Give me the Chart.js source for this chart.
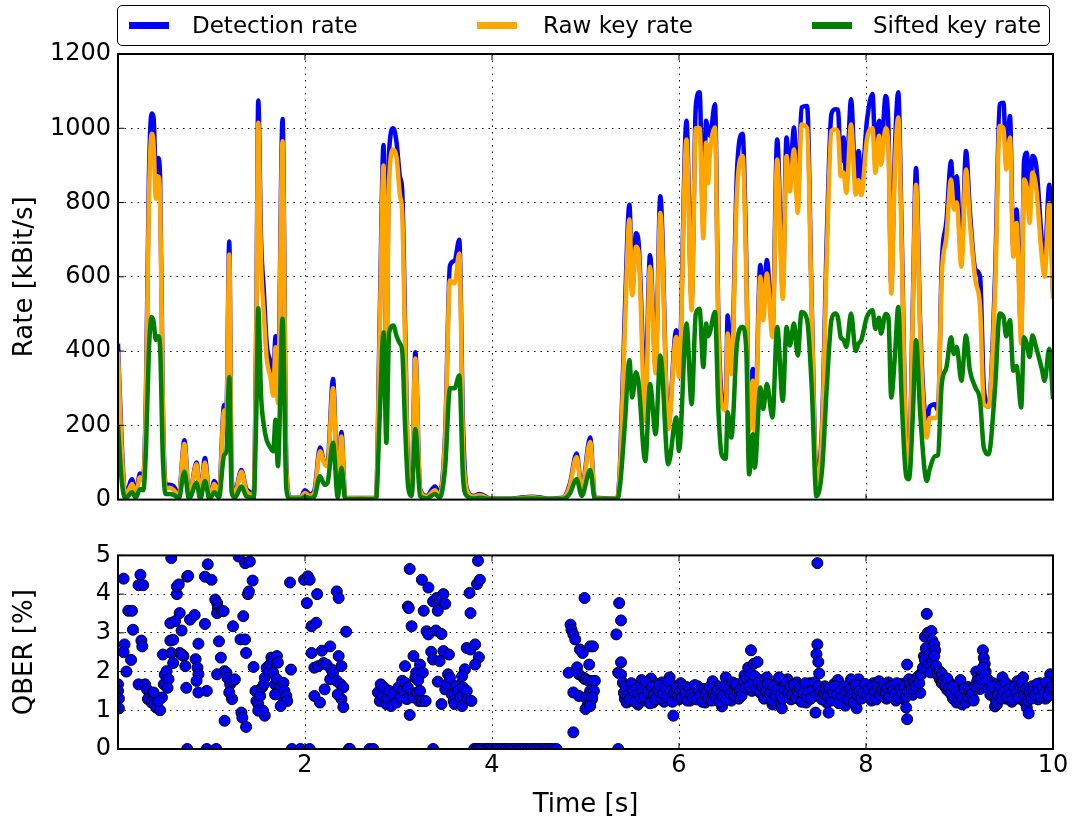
<!DOCTYPE html>
<html>
<head>
<meta charset="utf-8">
<script src="https://cdn.jsdelivr.net/npm/chart.js@4.4.0/dist/chart.umd.min.js"></script>
<style>
    body { margin: 0; background: #fff; width: 1079px; height: 823px; position: relative; overflow: hidden; font-family: "DejaVu Sans", sans-serif; }
    #rateChart { position: absolute; left: 0; top: 0; }
    #qberChart { position: absolute; left: 0; top: 534px; }
    #legend { position: absolute; left: 117px; top: 5px; width: 933px; height: 41px; border: 1.5px solid #000; border-radius: 5px; box-sizing: border-box; background: #fff; }
    .sw { position: absolute; top: 22px; width: 40px; height: 7px; }
    .lab { position: absolute; top: 5px; height: 41px; line-height: 41px; font-size: 23px; color: #000; white-space: nowrap; }
</style>
</head>
<body>
<canvas id="rateChart" width="1079" height="521"></canvas>
<canvas id="qberChart" width="1079" height="289"></canvas>
<div id="legend"></div>
<div class="sw" style="left:129px;background:#0000ff"></div>
<div class="lab" style="left:192px">Detection rate</div>
<div class="sw" style="left:477px;background:#ffa500"></div>
<div class="lab" style="left:543px">Raw key rate</div>
<div class="sw" style="left:812px;background:#008000"></div>
<div class="lab" style="left:873px">Sifted key rate</div>
<script>
// time axis of the rate curves [s]
const rateTime = [
    0.00, 0.04, 0.08, 0.15, 0.19, 0.235, 0.27, 0.30, 0.33, 0.36,
    0.38, 0.405, 0.43, 0.45, 0.48, 0.51, 0.55, 0.60, 0.65, 0.71,
    0.76, 0.84, 0.88, 0.93, 0.98, 1.03, 1.08, 1.135, 1.16, 1.19,
    1.215, 1.25, 1.32, 1.37, 1.41, 1.45, 1.48, 1.50, 1.53, 1.56,
    1.59, 1.63, 1.66, 1.685, 1.71, 1.76, 1.80, 1.84, 1.95, 2.00,
    2.05, 2.10, 2.16, 2.21, 2.24, 2.30, 2.35, 2.39, 2.43, 2.60,
    2.76, 2.80, 2.84, 2.87, 2.90, 2.945, 2.98, 3.015, 3.04, 3.07,
    3.105, 3.14, 3.18, 3.23, 3.30, 3.39, 3.44, 3.50, 3.55, 3.60,
    3.65, 3.69, 3.73, 3.80, 3.87, 3.98, 4.20, 4.43, 4.60, 4.76,
    4.83, 4.905, 4.96, 5.05, 5.10, 5.34, 5.37, 5.42, 5.47, 5.50,
    5.54, 5.565, 5.64, 5.69, 5.75, 5.80, 5.885, 5.97, 6.00, 6.08,
    6.135, 6.18, 6.22, 6.26, 6.29, 6.31, 6.33, 6.385, 6.42, 6.455,
    6.50, 6.52, 6.56, 6.62, 6.68, 6.72, 6.75, 6.79, 6.81, 6.87,
    6.90, 6.94, 7.00, 7.05, 7.11, 7.15, 7.185, 7.23, 7.27, 7.31,
    7.37, 7.42, 7.47, 7.53, 7.58, 7.63, 7.67, 7.70, 7.73, 7.76,
    7.79, 7.84, 7.89, 7.92, 7.95, 8.01, 8.07, 8.10, 8.14, 8.16,
    8.21, 8.24, 8.27, 8.31, 8.345, 8.38, 8.43, 8.46, 8.50, 8.535,
    8.58, 8.65, 8.68, 8.74, 8.77, 8.81, 8.86, 8.91, 8.94, 8.97,
    9.02, 9.07, 9.11, 9.17, 9.22, 9.26, 9.31, 9.38, 9.43, 9.47,
    9.50, 9.54, 9.575, 9.61, 9.66, 9.69, 9.72, 9.75, 9.78, 9.82,
    9.88, 9.91, 9.96, 10.00
];
// kBit/s
const detectionRate = [
    420, 150, 10, 55, 15, 70, 60, 300, 860, 1040,
    1030, 880, 920, 870, 250, 40, 40, 35, 10, 160,
    5, 100, 5, 112, 3, 50, 20, 255, 240, 695,
    60, 20, 80, 30, 20, 5, 500, 1075, 700, 560,
    420, 370, 320, 440, 300, 1025, 100, 5, 5, 25,
    15, 25, 140, 100, 100, 325, 20, 182, 5, 4,
    5, 500, 955, 400, 940, 1000, 960, 870, 830, 480,
    60, 20, 397, 30, 10, 35, 15, 185, 630, 643,
    700, 200, 30, 10, 15, 3, 3, 8, 3, 5,
    40, 124, 30, 167, 5, 3, 100, 500, 794, 560,
    717, 700, 300, 659, 360, 817, 200, 456, 350, 1020,
    540, 1060, 1097, 740, 1020, 992, 980, 1065, 500, 284,
    250, 496, 360, 884, 985, 640, 200, 352, 200, 632,
    520, 645, 460, 970, 570, 975, 870, 1002, 810, 1056,
    1060, 520, 70, 200, 700, 1038, 1051, 1050, 910, 975,
    860, 1078, 850, 939, 850, 1020, 1092, 940, 1020, 930,
    1087, 1000, 580, 950, 1097, 740, 140, 90, 520, 893,
    470, 203, 250, 257, 240, 636, 749, 911, 800, 871,
    650, 939, 780, 620, 600, 302, 250, 600, 1065, 1069,
    920, 1033, 680, 781, 450, 911, 934, 780, 925, 900,
    700, 640, 848, 560
];
const rawKeyRate = [
    400, 130, 8, 42, 12, 60, 50, 280, 800, 985,
    960, 810, 870, 820, 230, 30, 32, 25, 8, 150,
    4, 95, 4, 100, 2, 42, 15, 240, 225, 660,
    50, 15, 75, 25, 15, 4, 470, 1015, 640, 500,
    380, 330, 280, 410, 260, 965, 80, 4, 4, 18,
    10, 18, 130, 95, 90, 300, 15, 170, 4, 3,
    4, 460, 900, 380, 860, 943, 920, 820, 770, 430,
    50, 15, 380, 25, 8, 25, 12, 170, 590, 582,
    663, 150, 25, 8, 12, 2, 2, 6, 2, 4,
    35, 115, 25, 155, 4, 2, 90, 450, 754, 550,
    681, 670, 212, 627, 340, 772, 190, 438, 330, 970,
    510, 1000, 1000, 704, 961, 852, 930, 1002, 470, 257,
    240, 447, 338, 826, 925, 600, 185, 320, 180, 600,
    483, 609, 438, 916, 541, 925, 830, 943, 772, 1010,
    1000, 500, 45, 180, 650, 993, 997, 990, 871, 880,
    826, 1010, 821, 860, 820, 970, 1000, 880, 980, 902,
    1000, 950, 555, 900, 1029, 700, 122, 75, 500, 848,
    440, 167, 220, 220, 230, 600, 708, 862, 781, 800,
    627, 889, 750, 591, 519, 257, 250, 560, 1006, 1000,
    889, 975, 654, 745, 420, 862, 840, 745, 880, 840,
    654, 600, 798, 540
];
const siftedKeyRate = [
    200, 50, 3, 20, 5, 28, 25, 140, 400, 492,
    480, 430, 440, 410, 110, 15, 15, 12, 3, 75,
    2, 45, 2, 50, 1, 20, 6, 120, 130, 330,
    20, 5, 35, 10, 6, 2, 240, 515, 280, 200,
    160, 140, 130, 215, 90, 487, 30, 2, 2, 8,
    4, 8, 63, 40, 45, 153, 6, 86, 2, 1,
    2, 230, 451, 153, 450, 469, 440, 420, 400, 200,
    30, 10, 190, 10, 3, 15, 5, 90, 300, 300,
    334, 60, 10, 3, 5, 1, 1, 3, 1, 2,
    15, 55, 10, 80, 2, 1, 40, 200, 375, 275,
    343, 320, 104, 311, 176, 388, 95, 221, 131, 474,
    257, 501, 514, 357, 474, 440, 450, 505, 250, 122,
    110, 235, 167, 420, 465, 400, 68, 176, 86, 302,
    244, 311, 221, 465, 266, 465, 415, 474, 388, 505,
    485, 300, 9, 80, 300, 483, 501, 490, 437, 430,
    411, 501, 400, 420, 430, 492, 510, 460, 490, 447,
    500, 490, 275, 390, 519, 280, 63, 55, 221, 429,
    230, 50, 81, 117, 120, 311, 356, 437, 392, 411,
    320, 442, 350, 302, 266, 140, 122, 300, 501, 492,
    440, 483, 347, 360, 248, 437, 420, 384, 442, 410,
    352, 320, 406, 270
];

// QBER samples: time [s] and error rate [%]
const qberTime = [
    0.00, 0.00, 0.01, 0.01, 0.06, 0.07, 0.06, 0.14, 0.09, 0.11,
    0.15, 0.16, 0.24, 0.22, 0.27, 0.25, 0.26, 0.22, 0.29, 0.31,
    0.34, 0.32, 0.38, 0.36, 0.39, 0.41, 0.45, 0.47, 0.43, 0.38,
    0.49, 0.50, 0.52, 0.54, 0.53, 0.48, 0.57, 0.59, 0.56, 0.59,
    0.56, 0.61, 0.66, 0.68, 0.63, 0.63, 0.65, 0.74, 0.75, 0.57,
    0.66, 0.70, 0.72, 0.68, 0.73, 0.77, 0.82, 0.86, 0.83, 0.85,
    0.86, 0.84, 0.74, 0.86, 0.95, 0.93, 0.93, 1.00, 0.96, 0.95,
    1.05, 1.04, 1.06, 1.07, 1.06, 1.11, 1.13, 1.08, 1.10, 1.06,
    1.14, 1.16, 1.17, 1.20, 1.23, 1.25, 1.22, 1.19, 1.14, 1.23,
    1.29, 1.36, 1.41, 1.34, 1.31, 1.36, 1.37, 1.32, 1.33, 1.37,
    1.39, 1.40, 1.44, 1.45, 1.47, 1.48, 1.50, 1.52, 1.54, 1.50,
    1.56, 1.57, 1.59, 1.61, 1.63, 1.64, 1.66, 1.70, 1.71, 1.66,
    1.68, 1.70, 1.72, 1.73, 1.75, 1.68, 1.77, 1.78, 1.80, 1.81,
    1.74, 1.57, 1.55, 1.85, 1.84, 1.86, 1.95, 2.05, 1.99, 2.03,
    2.05, 2.02, 2.13, 2.34, 2.36, 2.07, 2.12, 2.44, 2.07, 2.18,
    2.27, 2.36, 2.10, 2.14, 2.20, 2.23, 2.28, 2.39, 2.10, 2.16,
    2.21, 2.27, 2.30, 2.34, 2.38, 2.41, 2.39, 2.35, 2.41, 2.47,
    2.48, 2.69, 2.73, 3.37, 2.78, 2.80, 2.81, 2.83, 2.85, 2.87,
    2.88, 2.90, 2.92, 2.94, 2.98, 3.00, 3.02, 3.04, 3.05, 3.07,
    3.09, 3.10, 3.16, 3.20, 3.22, 3.23, 3.25, 3.29, 3.07, 3.16,
    3.12, 3.18, 3.19, 3.23, 3.26, 3.21, 3.12, 3.25, 3.32, 3.10,
    3.11, 3.14, 3.27, 3.37, 3.41, 3.44, 3.48, 3.50, 3.42, 3.30,
    3.32, 3.40, 3.46, 3.35, 3.37, 3.44, 3.48, 3.54, 3.42, 3.46,
    3.50, 3.52, 3.53, 3.55, 3.57, 3.59, 3.60, 3.62, 3.64, 3.66,
    3.68, 3.69, 3.71, 3.73, 3.74, 3.78, 3.68, 3.73, 3.77, 3.82,
    3.86, 3.82, 3.76, 3.77, 3.84, 3.87, 3.85, 4.87, 4.84, 4.85,
    4.87, 4.89, 4.94, 4.97, 5.05, 4.99, 4.82, 4.91, 4.93, 4.98,
    5.00, 5.03, 5.07, 4.87, 4.93, 5.00, 5.05, 5.07, 5.02, 5.00,
    5.04, 5.08, 5.10, 5.09, 5.07, 5.05, 5.35, 5.36, 5.38, 5.33,
    5.38, 5.35, 5.38,
    3.81, 3.84, 3.86, 3.89, 3.92, 3.95, 3.97, 4.00, 4.03, 4.06,
    4.09, 4.12, 4.15, 4.18, 4.21, 4.24, 4.27, 4.30, 4.33, 4.36,
    4.39, 4.42, 4.45, 4.48, 4.51, 4.54, 4.57, 4.60, 4.63, 4.66,
    4.69,
    5.40, 5.42, 5.44, 5.46, 5.48, 5.50, 5.52, 5.54, 5.56, 5.58,
    5.60, 5.62, 5.64, 5.66, 5.68, 5.70, 5.72, 5.74, 5.76, 5.78,
    5.80, 5.82, 5.84, 5.86, 5.88, 5.90, 5.92, 5.94, 5.96, 5.98,
    6.00, 6.02, 6.04, 6.06, 6.08, 6.10, 6.12, 6.14, 6.16, 6.18,
    6.20, 6.22, 6.24, 6.26, 6.28, 6.30, 6.32, 6.34, 6.36, 6.38,
    6.40, 6.42, 6.44, 6.46, 6.48, 6.50, 6.52, 6.54, 6.56, 6.58,
    6.60, 6.62, 6.64, 6.66, 6.68, 6.70, 6.72, 6.74, 6.76, 6.77,
    6.78, 6.80, 6.82, 6.84, 6.86, 6.88, 6.90, 6.92, 6.94, 6.96,
    6.98, 7.00, 7.02, 7.04, 7.06, 7.08, 7.10, 7.12, 7.14, 7.16,
    7.18, 7.20, 7.22, 7.24, 7.26, 7.28, 7.30, 7.32, 7.34, 7.36,
    7.38, 7.40, 7.42, 7.44, 7.46, 7.48, 7.48, 7.47, 7.49, 7.50,
    7.52, 7.54, 7.56, 7.58, 7.60, 7.62, 7.64, 7.66, 7.68, 7.70,
    7.72, 7.74, 7.76, 7.78, 7.80, 7.82, 7.84, 7.86, 7.88, 7.90,
    7.92, 7.94, 7.96, 7.98, 8.00, 8.02, 8.04, 8.06, 8.08, 8.10,
    8.12, 8.14, 8.16, 8.18, 8.20, 8.22, 8.24, 8.26, 8.28, 8.30,
    8.32, 8.34, 8.36, 8.38, 8.40, 8.42, 8.43, 8.44, 8.44, 8.46,
    8.48, 8.50, 8.52, 8.54, 8.56, 8.58, 8.60, 8.62, 8.63, 8.64,
    8.65, 8.66, 8.67, 8.68, 8.69, 8.70, 8.71, 8.72, 8.73, 8.74,
    8.75, 8.77, 8.79, 8.81, 8.83, 8.85, 8.87, 8.89, 8.91, 8.93,
    8.95, 8.97, 8.99, 9.01, 9.03, 9.05, 9.07, 9.09, 9.11, 9.13,
    9.15, 9.17, 9.18, 9.20, 9.22, 9.24, 9.25, 9.26, 9.27, 9.28,
    9.30, 9.32, 9.34, 9.36, 9.38, 9.40, 9.42, 9.44, 9.46, 9.48,
    9.50, 9.52, 9.54, 9.56, 9.58, 9.60, 9.62, 9.64, 9.66, 9.68,
    9.70, 9.72, 9.74, 9.76, 9.78, 9.80, 9.82, 9.84, 9.86, 9.88,
    9.90, 9.92, 9.94, 9.96, 9.97, 9.99,
    5.41, 5.43, 5.45, 5.47, 5.49, 5.51, 5.53, 5.55, 5.57, 5.59,
    5.61, 5.63, 5.65, 5.67, 5.69, 5.71, 5.73, 5.75, 5.77, 5.79,
    5.81, 5.83, 5.85, 5.87, 5.89, 5.91, 5.93, 5.95, 5.97, 5.99,
    6.01, 6.03, 6.05, 6.07, 6.09, 6.11, 6.13, 6.15, 6.17, 6.19,
    6.21, 6.23, 6.25, 6.27, 6.29, 6.31, 6.33, 6.35, 6.37, 6.39,
    6.41, 6.43, 6.45, 6.47, 6.49, 6.51, 6.53, 6.55, 6.57, 6.59,
    6.61, 6.63, 6.65, 6.67, 6.69, 6.71, 6.73, 6.75, 6.77, 6.79,
    6.81, 6.83, 6.85, 6.87, 6.89, 6.91, 6.93, 6.95, 6.97, 6.99,
    7.01, 7.03, 7.05, 7.07, 7.09, 7.11, 7.13, 7.15, 7.17, 7.19,
    7.21, 7.23, 7.25, 7.27, 7.29, 7.31, 7.33, 7.35, 7.37, 7.39,
    7.41, 7.43, 7.45, 7.47, 7.49, 7.51, 7.53, 7.55, 7.57, 7.59,
    7.61, 7.63, 7.65, 7.67, 7.69, 7.71, 7.73, 7.75, 7.77, 7.79,
    7.81, 7.83, 7.85, 7.87, 7.89, 7.91, 7.93, 7.95, 7.97, 7.99,
    8.01, 8.03, 8.05, 8.07, 8.09, 8.11, 8.13, 8.15, 8.17, 8.19,
    8.21, 8.23, 8.25, 8.27, 8.29, 8.31, 8.33, 8.35, 8.37, 8.39,
    8.41, 8.43, 8.45, 8.47, 8.49, 8.51, 8.53, 8.55, 8.57, 8.59,
    8.61, 8.63, 8.65, 8.67, 8.69, 8.71, 8.73, 8.75, 8.77, 8.79,
    8.81, 8.83, 8.85, 8.87, 8.89, 8.91, 8.93, 8.95, 8.97, 8.99,
    9.01, 9.03, 9.05, 9.07, 9.09, 9.11, 9.13, 9.15, 9.17, 9.19,
    9.21, 9.23, 9.25, 9.27, 9.29, 9.31, 9.33, 9.35, 9.37, 9.39,
    9.41, 9.43, 9.45, 9.47, 9.49, 9.51, 9.53, 9.55, 9.57, 9.59,
    9.61, 9.63, 9.65, 9.67, 9.69, 9.71, 9.73, 9.75, 9.77, 9.79,
    9.81, 9.83, 9.85, 9.87, 9.89, 9.91, 9.93, 9.95, 9.97, 9.99
];
const qberValue = [
    1.67, 1.50, 1.30, 1.05, 4.40, 2.70, 2.50, 2.30, 2.00, 3.57,
    3.57, 3.08, 4.50, 4.23, 4.23, 2.80, 2.65, 1.67, 1.67, 1.54,
    1.41, 1.29, 1.41, 1.20, 1.16, 1.07, 1.00, 1.33, 1.24, 1.46,
    1.67, 1.92, 2.01, 1.80, 1.58, 2.44, 2.48, 2.22, 2.80, 2.82,
    3.25, 3.30, 3.51, 3.06, 4.00, 4.20, 4.25, 4.45, 4.47, 4.93,
    2.48, 2.40, 2.14, 2.44, 1.58, 3.34, 3.46, 2.72, 2.32, 2.10,
    1.93, 1.76, 0.00, 1.46, 1.50, 3.23, 4.45, 4.37, 4.77, 0.00,
    0.00, 3.86, 3.77, 3.64, 3.51, 3.56, 3.56, 2.78, 2.36, 1.93,
    2.01, 1.97, 1.84, 1.67, 1.76, 1.80, 1.29, 1.46, 0.73, 3.17,
    4.97, 4.80, 4.84, 3.43, 2.83, 2.83, 2.48, 0.94, 0.81, 0.57,
    4.00, 4.07, 4.35, 2.12, 1.50, 1.24, 1.16, 1.37, 1.59, 0.99,
    1.67, 1.84, 2.10, 2.01, 2.19, 2.36, 2.31, 2.40, 2.23, 1.97,
    1.67, 1.80, 1.46, 1.59, 1.37, 1.41, 1.71, 1.50, 1.37, 1.24,
    1.11, 0.86, 0.99, 2.05, 4.30, 0.00, 0.00, 0.00, 4.37, 4.46,
    4.37, 3.77, 4.00, 4.07, 3.90, 3.17, 3.26, 3.03, 2.48, 2.54,
    2.65, 2.40, 2.10, 2.14, 2.22, 2.18, 2.06, 2.14, 1.37, 1.20,
    1.54, 1.80, 1.97, 1.76, 1.67, 1.59, 1.29, 1.41, 1.08, 0.00,
    0.00, 0.00, 0.00, 0.00, 1.46, 1.24, 1.67, 1.37, 1.58, 1.16,
    1.29, 1.50, 1.11, 1.41, 1.20, 1.59, 1.33, 1.76, 1.50, 1.71,
    1.29, 1.59, 1.33, 1.46, 1.24, 1.50, 1.24, 1.24, 2.14, 2.40,
    0.88, 1.84, 1.97, 2.18, 1.97, 1.77, 4.65, 4.37, 4.17, 3.68,
    3.64, 3.17, 3.57, 3.81, 3.90, 3.86, 4.00, 3.75, 3.57, 3.04,
    2.96, 3.06, 2.97, 2.51, 2.31, 2.27, 2.53, 2.44, 1.74, 1.16,
    1.54, 1.67, 1.93, 1.84, 1.41, 1.24, 1.16, 1.63, 1.50, 1.33,
    1.11, 1.59, 2.06, 1.50, 1.29, 1.24, 1.88, 2.61, 2.57, 2.70,
    2.37, 2.18, 4.03, 3.51, 4.26, 4.37, 4.86, 0.43, 3.21, 3.08,
    2.96, 2.83, 2.57, 2.48, 2.65, 3.90, 1.97, 2.11, 1.93, 1.84,
    1.80, 1.77, 1.76, 1.46, 1.37, 1.33, 1.50, 1.29, 1.11, 1.03,
    2.18, 2.65, 1.76, 1.50, 1.33, 1.11, 0.00, 3.77, 3.32, 2.96,
    2.24, 1.97, 1.92,
    0.00, 0.00, 0.00, 0.00, 0.00, 0.00, 0.00, 0.00, 0.00, 0.00,
    0.00, 0.00, 0.00, 0.00, 0.00, 0.00, 0.00, 0.00, 0.00, 0.00,
    0.00, 0.00, 0.00, 0.00, 0.00, 0.00, 0.00, 0.00, 0.00, 0.00,
    0.00,
    1.71, 1.30, 1.20, 1.55, 1.25, 1.40, 1.62, 1.35, 1.15, 1.50,
    1.78, 1.45, 1.25, 1.60, 1.38, 1.82, 1.20, 1.55, 1.68, 1.30,
    1.48, 1.72, 1.22, 1.58, 1.40, 1.85, 1.33, 0.86, 1.62, 1.45,
    1.28, 1.70, 1.52, 1.36, 1.60, 1.42, 1.25, 1.55, 1.38, 1.48,
    1.62, 1.30, 1.45, 1.35, 1.20, 1.40, 1.55, 1.32, 1.75, 1.45,
    1.28, 1.62, 1.38, 1.10, 1.50, 1.85, 1.35, 1.60, 1.25, 1.70,
    1.42, 1.55, 1.30, 1.65, 1.48, 1.90, 1.60, 2.10, 1.75, 2.55,
    1.50, 2.20, 1.68, 2.25, 1.55, 1.78, 1.40, 1.62, 1.85, 1.32,
    1.55, 1.15, 1.45, 1.70, 1.25, 1.50, 1.05, 1.60, 1.35, 1.80,
    1.48, 1.28, 1.58, 1.40, 1.72, 1.30, 1.52, 1.62, 1.38, 1.20,
    1.55, 1.70, 1.42, 1.60, 0.94, 4.80, 2.70, 2.45, 2.25, 1.95,
    1.45, 1.30, 1.62, 1.20, 0.94, 1.50, 1.35, 1.68, 1.25, 1.78,
    1.42, 1.30, 1.58, 1.12, 1.45, 1.35, 1.80, 1.52, 1.28, 1.05,
    1.80, 1.40, 1.32, 1.55, 1.38, 1.62, 1.45, 1.25, 1.70, 1.50,
    1.35, 1.75, 1.55, 1.42, 1.65, 1.30, 1.72, 1.48, 1.38, 1.60,
    1.25, 1.52, 1.40, 1.68, 1.30, 1.55, 1.07, 0.77, 2.18, 1.80,
    1.50, 1.40, 1.72, 1.60, 1.88, 1.45, 1.98, 2.40, 2.90, 2.60,
    3.49, 3.00, 2.05, 2.45, 2.10, 3.05, 2.80, 2.00, 2.70, 2.55,
    1.95, 1.90, 1.80, 1.70, 1.85, 1.60, 1.52, 1.72, 1.42, 1.30,
    1.55, 1.20, 1.38, 1.78, 1.15, 1.45, 1.25, 1.60, 1.35, 1.50,
    1.28, 1.65, 2.00, 1.85, 1.55, 1.95, 2.55, 2.35, 2.20, 2.00,
    1.80, 1.62, 1.45, 1.70, 1.10, 1.15, 1.55, 1.38, 1.85, 1.52,
    1.30, 1.65, 1.45, 1.22, 1.58, 1.40, 1.75, 1.30, 1.50, 1.85,
    1.20, 1.07, 0.92, 1.45, 1.62, 1.35, 1.55, 1.28, 1.70, 1.42,
    1.58, 1.30, 1.65, 1.48, 1.93, 1.40,
    1.45, 1.62, 1.38, 1.28, 1.70, 1.50, 1.22, 1.58, 1.42, 1.33,
    1.55, 1.35, 1.72, 1.48, 1.18, 1.60, 1.40, 1.28, 1.52, 1.65,
    1.30, 1.42, 1.60, 1.35, 1.75, 1.50, 1.22, 1.45, 1.58, 1.38,
    1.50, 1.33, 1.62, 1.45, 1.25, 1.58, 1.40, 1.32, 1.65, 1.28,
    1.50, 1.38, 1.22, 1.55, 1.45, 1.30, 1.60, 1.25, 1.42, 1.35,
    1.50, 1.22, 1.45, 1.35, 1.62, 1.28, 1.55, 1.42, 1.72, 1.38,
    1.68, 1.45, 1.52, 1.38, 1.75, 1.58, 1.82, 1.62, 1.95, 1.70,
    1.88, 1.55, 1.72, 1.45, 1.62, 1.30, 1.50, 1.68, 1.42, 1.25,
    1.62, 1.38, 1.52, 1.85, 1.40, 1.30, 1.55, 1.72, 1.45, 1.62,
    1.40, 1.65, 1.32, 1.50, 1.58, 1.22, 1.45, 1.70, 1.35, 1.48,
    1.30, 1.52, 1.72, 1.38, 1.62, 1.50, 1.28, 1.42, 1.55, 1.35,
    1.58, 1.25, 1.45, 1.62, 1.40, 1.18, 1.50, 1.35, 1.62, 1.48,
    1.28, 1.55, 1.42, 1.20, 1.65, 1.38, 1.50, 1.30, 1.45, 1.68,
    1.42, 1.55, 1.32, 1.62, 1.48, 1.28, 1.58, 1.40, 1.52, 1.68,
    1.45, 1.58, 1.35, 1.62, 1.50, 1.42, 1.70, 1.32, 1.55, 1.45,
    1.62, 1.35, 1.48, 1.68, 1.55, 1.75, 1.62, 1.85, 1.70, 1.92,
    2.10, 2.30, 2.05, 2.20, 1.98, 2.25, 2.40, 2.15, 1.95, 2.00,
    1.95, 1.78, 1.65, 1.82, 1.58, 1.45, 1.62, 1.35, 1.48, 1.28,
    1.40, 1.30, 1.55, 1.20, 1.35, 1.50, 1.42, 1.25, 1.62, 1.75,
    1.68, 1.80, 2.10, 1.90, 1.75, 1.55, 1.40, 1.62, 1.35, 1.25,
    1.40, 1.62, 1.30, 1.48, 1.72, 1.35, 1.55, 1.42, 1.28, 1.60,
    1.45, 1.32, 1.62, 1.70, 1.38, 1.55, 1.25, 1.48, 1.30, 1.52,
    1.40, 1.68, 1.50, 1.35, 1.58, 1.45, 1.72, 1.38, 1.55, 1.62
];

const xTicks = [0, 2, 4, 6, 8, 10];
const rateTicks = [0, 200, 400, 600, 800, 1000, 1200];
const qberTicks = [0, 1, 2, 3, 4, 5];

const font = 'DejaVu Sans';

// matplotlib-like frame with inward tick marks
const framePlugin = {
    id: 'frame',
    afterDatasetsDraw(chart) {
        const { ctx, chartArea: a, scales } = chart;
        ctx.save();
        ctx.strokeStyle = '#000';
        ctx.lineWidth = 1;
        ctx.beginPath();
        scales.x.ticks.forEach(t => {
            const px = scales.x.getPixelForValue(t.value);
            ctx.moveTo(px, a.bottom); ctx.lineTo(px, a.bottom - 6);
            ctx.moveTo(px, a.top); ctx.lineTo(px, a.top + 6);
        });
        scales.y.ticks.forEach(t => {
            const py = scales.y.getPixelForValue(t.value);
            ctx.moveTo(a.left, py); ctx.lineTo(a.left + 6, py);
            ctx.moveTo(a.right, py); ctx.lineTo(a.right - 6, py);
        });
        ctx.stroke();
        ctx.lineWidth = 2;
        ctx.strokeRect(a.left, a.top, a.right - a.left, a.bottom - a.top);
        ctx.restore();
    }
};

function gridOpts() {
    return { color: '#000', lineWidth: 1, drawTicks: false };
}
function borderOpts() {
    return { display: false, dash: [1.5, 5] };
}

function toPoints(ys) {
    return rateTime.map((t, i) => ({ x: t, y: ys[i] }));
}

function lineSet(label, ys, color, order) {
    return {
        label: label,
        data: toPoints(ys),
        borderColor: color,
        backgroundColor: color,
        borderWidth: 4.5,
        pointRadius: 0,
        cubicInterpolationMode: 'monotone',
        fill: false,
        clip: 0,
        order: order
    };
}

new Chart(document.getElementById('rateChart').getContext('2d'), {
    type: 'line',
    data: {
        datasets: [
            lineSet('Detection rate', detectionRate, '#0000ff', 3),
            lineSet('Raw key rate', rawKeyRate, '#ffa500', 2),
            lineSet('Sifted key rate', siftedKeyRate, '#008000', 1)
        ]
    },
    options: {
        responsive: false,
        animation: false,
        events: [],
        layout: { padding: { top: 54, right: 26, left: 0, bottom: 0 } },
        plugins: { legend: { display: false }, tooltip: { enabled: false } },
        scales: {
            x: {
                type: 'linear',
                min: 0,
                max: 10,
                afterBuildTicks: s => { s.ticks = xTicks.map(v => ({ value: v })); },
                ticks: { display: false },
                grid: gridOpts(),
                border: borderOpts(),
                afterFit: s => { s.height = 11; }
            },
            y: {
                min: 0,
                max: 1200,
                afterBuildTicks: s => { s.ticks = rateTicks.map(v => ({ value: v })); },
                ticks: { color: '#000', font: { family: font, size: 24 }, padding: 7, callback: v => String(v) },
                grid: gridOpts(),
                border: borderOpts(),
                title: {
                    display: true,
                    text: 'Rate [kBit/s]',
                    color: '#000',
                    font: { family: font, size: 26 },
                    padding: { top: 10, bottom: 0 }
                },
                afterFit: s => { s.width = 118; }
            }
        }
    },
    plugins: [framePlugin]
});

new Chart(document.getElementById('qberChart').getContext('2d'), {
    type: 'scatter',
    data: {
        datasets: [{
            label: 'QBER',
            data: qberTime.map((t, i) => ({ x: t, y: qberValue[i] })),
            backgroundColor: '#0000ff',
            borderColor: '#000',
            borderWidth: 1,
            pointRadius: 5.5,
            clip: 0
        }]
    },
    options: {
        responsive: false,
        animation: false,
        events: [],
        layout: { padding: { top: 0, right: 26, left: 0, bottom: 0 } },
        plugins: { legend: { display: false }, tooltip: { enabled: false } },
        scales: {
            x: {
                type: 'linear',
                min: 0,
                max: 10,
                afterBuildTicks: s => { s.ticks = xTicks.map(v => ({ value: v })); },
                ticks: {
                    color: '#000',
                    font: { family: font, size: 24 },
                    padding: 2,
                    maxRotation: 0,
                    callback: v => (v === 0 ? '' : String(v))
                },
                grid: gridOpts(),
                border: borderOpts(),
                title: {
                    display: true,
                    text: 'Time [s]',
                    color: '#000',
                    font: { family: font, size: 26 },
                    padding: { top: 0, bottom: 2 }
                },
                afterFit: s => { s.height = 74; }
            },
            y: {
                min: 0,
                max: 5,
                afterBuildTicks: s => { s.ticks = qberTicks.map(v => ({ value: v })); },
                ticks: { color: '#000', font: { family: font, size: 24 }, padding: 7, callback: v => String(v) },
                grid: gridOpts(),
                border: borderOpts(),
                title: {
                    display: true,
                    text: 'QBER [%]',
                    color: '#000',
                    font: { family: font, size: 26 },
                    padding: { top: 10, bottom: 0 }
                },
                afterFit: s => { s.width = 118; }
            }
        }
    },
    plugins: [framePlugin]
});
</script>
</body>
</html>
